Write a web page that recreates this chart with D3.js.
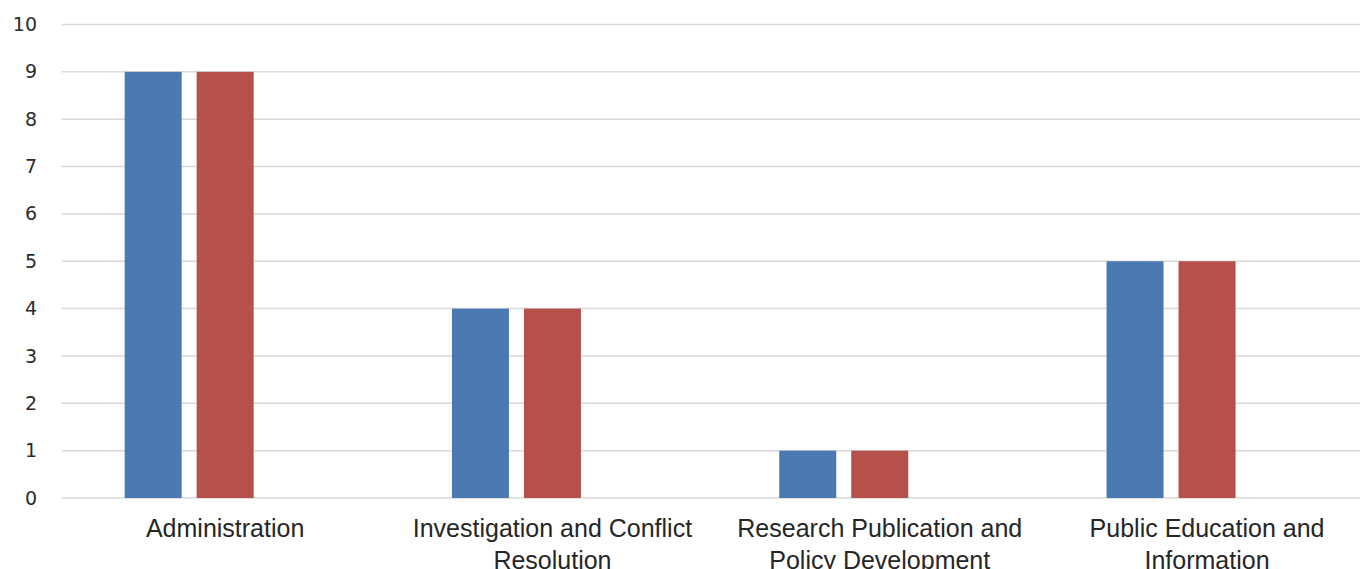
<!DOCTYPE html>
<html>
<head>
<meta charset="utf-8">
<script src="https://cdn.jsdelivr.net/npm/d3@7"></script>
<style>
  html, body { margin: 0; padding: 0; background: #ffffff; }
  svg { display: block; }
</style>
</head>
<body>
<svg id="chart" width="1360" height="569"></svg>
<script>
// Categories along the x axis
const categories = [
  "Administration",
  "Investigation and Conflict Resolution",
  "Research Publication and Policy Development",
  "Public Education and Information"
];
// Series (the third slot is empty, which keeps the layout of a three-series chart)
const seriesNames = ["Series 1", "Series 2", "Series 3"];
const series1 = [9, 4, 1, 5];
const series2 = [9, 4, 1, 5];
const series3 = [0, 0, 0, 0];
const seriesColors = ["#4b7ab2", "#b6504b", "#9bbb59"];
const yTicks = [0, 1, 2, 3, 4, 5, 6, 7, 8, 9, 10];

const seriesValues = [series1, series2, series3];

const svg = d3.select("#chart");
const W = 1360, H = 569;

const plotLeft = 61.5;
const bandW = 327.3;

const x0 = d3.scaleBand()
  .domain(categories)
  .range([plotLeft, plotLeft + bandW * categories.length])
  .paddingInner(0)
  .paddingOuter(0);

const x1 = d3.scaleBand()
  .domain(seriesNames)
  .range([0, x0.bandwidth()])
  .paddingInner(0.208)
  .paddingOuter(0.877);

const y = d3.scaleLinear().domain([0, 10]).range([498, 24.5]);

// Horizontal gridlines
svg.append("g")
  .selectAll("line")
  .data(yTicks)
  .join("line")
  .attr("x1", plotLeft)
  .attr("x2", W)
  .attr("y1", d => y(d))
  .attr("y2", d => y(d))
  .attr("stroke", "#d9d9d9")
  .attr("stroke-width", 1.5);

// Y axis labels
const yAxis = d3.axisLeft(y).tickValues(yTicks).tickSize(0).tickPadding(0).tickFormat(d3.format("d"));
const yG = svg.append("g")
  .attr("transform", "translate(37,0)")
  .call(yAxis);
yG.select(".domain").remove();
yG.selectAll("text")
  .attr("font-family", "'DejaVu Sans', sans-serif")
  .attr("font-size", 19)
  .attr("fill", "#2b2b2b");

// Bars
const rows = categories.map((c, i) => ({
  category: c,
  values: seriesNames.map((s, j) => ({ series: s, value: seriesValues[j][i], color: seriesColors[j] }))
}));

const groups = svg.append("g")
  .selectAll("g")
  .data(rows)
  .join("g")
  .attr("transform", d => `translate(${x0(d.category)},0)`);

groups.selectAll("rect")
  .data(d => d.values)
  .join("rect")
  .attr("x", d => x1(d.series))
  .attr("width", x1.bandwidth())
  .attr("y", d => y(d.value))
  .attr("height", d => y(0) - y(d.value))
  .attr("fill", d => d.color);

// Category labels, wrapped to fit each band
const labelG = svg.append("g");
const maxLabelWidth = 310;
categories.forEach(cat => {
  const cx = x0(cat) + x0.bandwidth() / 2;
  const t = labelG.append("text")
    .attr("x", cx)
    .attr("y", 537)
    .attr("text-anchor", "middle")
    .attr("font-family", "'Liberation Sans', Arial, sans-serif")
    .attr("font-size", 25)
    .attr("fill", "#262626");
  const words = cat.split(" ");
  let line = [];
  let lineNo = 0;
  let tspan = t.append("tspan").attr("x", cx).attr("y", 537);
  words.forEach(w => {
    line.push(w);
    tspan.text(line.join(" "));
    if (tspan.node().getComputedTextLength() > maxLabelWidth && line.length > 1) {
      line.pop();
      tspan.text(line.join(" "));
      line = [w];
      lineNo++;
      tspan = t.append("tspan").attr("x", cx).attr("y", 537 + lineNo * 32).text(w);
    }
  });
});
</script>
</body>
</html>
